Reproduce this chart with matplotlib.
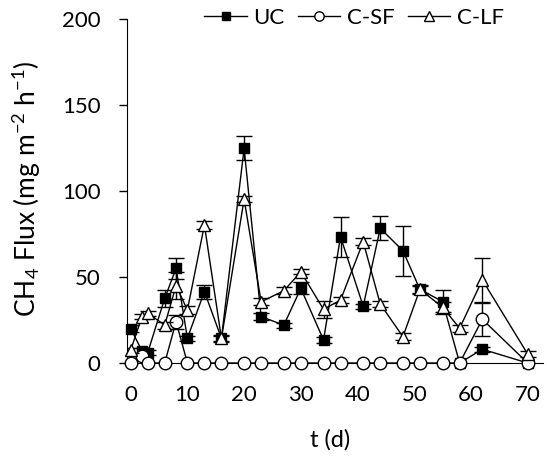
import numpy as np
import matplotlib
matplotlib.use('Agg')
import matplotlib.pyplot as plt

plt.rcParams['font.family'] = ['Lato', 'DejaVu Sans']
plt.rcParams['mathtext.default'] = 'regular'

# sampling days
t = [0, 2, 3, 6, 8, 10, 13, 16, 20, 23, 27, 30, 34, 37, 41, 44, 48, 51, 55, 58, 62, 70]

# UC
uc = [20, 7, 6, 37.6, 55, 14.4, 41.5, 14.3, 124.8, 27, 22, 43.4, 13.4, 73.4,
      33, 78.3, 65.3, 42.8, 35.7, 0, 8, 0]
uc_err = [2, 1.5, 1.5, 5, 6, 1.5, 4, 1.5, 7, 2, 1.5, 3.5, 1.5, 11.5,
          1.5, 7, 14.5, 2, 7, 0, 1.5, 0]

# C-SF
csf = [0, 4, 0, 0, 24, 0, 0, 0, 0, 0, 0, 0, 0, 0,
       0, 0, 0, 0, 0, 0, 25.4, 0]
csf_err = [0, 1, 0, 0, 4, 0, 0, 0, 0, 0, 0, 0, 0, 0,
           0, 0, 0, 0, 0, 0, 9.5, 0]

# C-LF
clf = [7.5, 27, 29, 22, 45, 30.8, 80.2, 14.3, 95.2, 35.6, 42, 53, 31.2, 36.6,
       70.5, 34.3, 15.3, 42.8, 32.4, 20.2, 48.3, 5.2]
clf_err = [1.5, 1.5, 1.5, 2, 8, 2.5, 2.5, 2, 1.7, 2, 2, 1.5, 5, 2,
           2, 2, 2, 2.5, 3, 2, 13, 1.5]

series = [
    ('UC', uc, uc_err, 's', 'black', 7),
    ('C-SF', csf, csf_err, 'o', 'white', 9),
    ('C-LF', clf, clf_err, '^', 'white', 9),
]

fig = plt.figure(figsize=(5.47, 4.59), dpi=100)
ax = fig.add_axes([127/547, 1-363/459, 416/547, 344/459])

tt = np.array(t)
for i, (name, y, err, mk, fc, ms) in enumerate(series):
    y = np.array(y)
    err = np.array(err)
    sel = err > 0
    ax.errorbar(tt[sel], y[sel], yerr=err[sel], fmt='none', ecolor='black',
                elinewidth=1, capsize=6, capthick=1, zorder=2 + i)
    ax.plot(tt, y, '-', color='black', lw=1, marker=mk, mfc=fc, mec='black',
            ms=ms, mew=1, label=name, clip_on=False, zorder=3 + i)

ax.set_xlim(-0.65, 72.7)
ax.set_ylim(0, 200)
ax.set_xticks(range(0, 71, 10))
ax.set_yticks(range(0, 201, 50))
ax.spines['top'].set_visible(False)
ax.spines['right'].set_visible(False)
ax.tick_params(axis='x', length=0, pad=16, labelsize=16)
ax.tick_params(axis='y', direction='out', length=6, width=1, pad=13, labelsize=16)

fig.text(27/547, 1-189/459, 'CH$_4$ Flux (mg m$^{-2}$ h$^{-1}$)', rotation=90,
         ha='center', va='center', fontsize=19)
fig.text(330/547, 1-440/459, 't (d)', ha='center', va='center', fontsize=17)

fig.legend(loc='center', bbox_to_anchor=(354/547, 1-18/459), ncol=3,
           frameon=False, fontsize=16, handlelength=1.9, handletextpad=0.3,
           columnspacing=0.6, markerscale=0.75, borderaxespad=0)

fig.savefig('out.png', dpi=100)
